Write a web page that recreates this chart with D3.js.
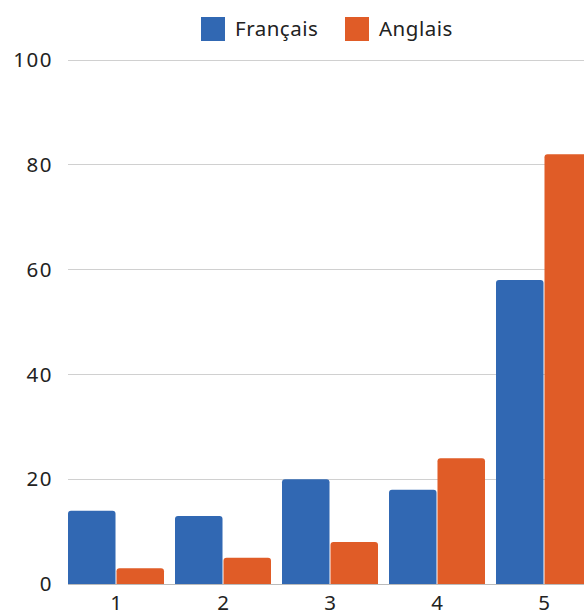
<!DOCTYPE html>
<html><head><meta charset="utf-8">
<script src="https://cdn.jsdelivr.net/npm/d3@7"></script>
<style>body{margin:0;background:#fff}svg{display:block}text{font-family:"Noto Sans",sans-serif;fill:#222}</style>
</head><body><svg id="c" width="584" height="612"></svg>
<script>
const categories = ["1","2","3","4","5"];
const seriesNames = ["Français","Anglais"];
const francais = [14,13,20,18,58];
const anglais = [3,5,8,24,82];
const yTicks = [0,20,40,60,80,100];
const colors = ["#3168b3","#e05c27"];

const svg = d3.select("#c");
const y = d3.scaleLinear().domain([0,100]).range([584,60]);
const x0 = d3.scaleBand().domain(categories).range([62.5,597.5]).paddingInner(11/107).paddingOuter(5.5/107);
const x1 = d3.scaleBand().domain(seriesNames).range([0,x0.bandwidth()]).paddingInner(0.02);

// grid
svg.append("g").selectAll("line").data(yTicks).join("line")
  .attr("x1",68).attr("x2",584).attr("y1",d=>y(d)).attr("y2",d=>y(d))
  .attr("stroke",d=>d===0?"#bbb":"#d0d0d0").attr("stroke-width",1).attr("shape-rendering","crispEdges");
svg.append("g").selectAll("text").data(yTicks).join("text")
  .attr("x",53).attr("y",d=>y(d)).attr("dy","0.35em").attr("text-anchor","end")
  .style("font-size","20.5px").style("letter-spacing","1.5px").text(d=>d);

const data = categories.map((c,i)=>({c, vals:[francais[i],anglais[i]]}));
const r = 3;
function barPath(x,w,top,bottom){
  return `M${x},${bottom}V${top+r}Q${x},${top} ${x+r},${top}H${x+w-r}Q${x+w},${top} ${x+w},${top+r}V${bottom}Z`;
}
const g = svg.append("g").selectAll("g").data(data).join("g");
g.selectAll("path").data(d=>d.vals.map((v,j)=>({v,j,c:d.c}))).join("path")
  .attr("d",d=>barPath(x0(d.c)+x1(seriesNames[d.j]), x1.bandwidth(), y(d.v), y(0)))
  .attr("fill",d=>colors[d.j]);

svg.append("g").selectAll("text").data(categories).join("text")
  .attr("x",d=>x0(d)+x0.bandwidth()/2).attr("y",603).attr("dy","0.35em").attr("text-anchor","middle")
  .style("font-size","20.5px").text(d=>d);

// legend
const legX = [201,345];
const lg = svg.append("g").selectAll("g").data(seriesNames).join("g")
  .attr("transform",(d,i)=>`translate(${legX[i]},17)`);
lg.append("rect").attr("width",24).attr("height",24).attr("fill",(d,i)=>colors[i]);
lg.append("text").attr("x",34).attr("y",12).attr("dy","0.35em").style("font-size","20.5px").style("letter-spacing","0.5px").text(d=>d);
</script></body></html>
